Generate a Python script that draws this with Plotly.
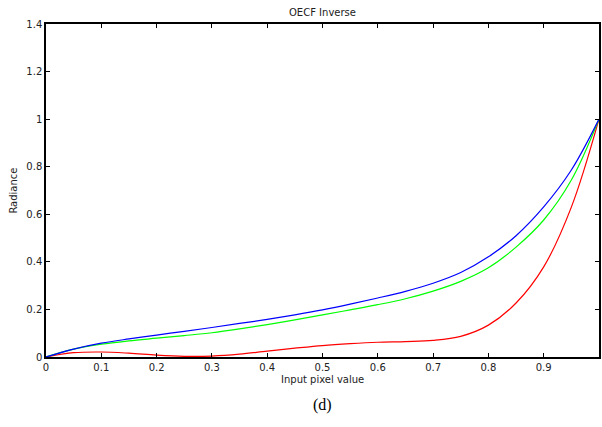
import plotly.graph_objects as go

x_vals = [0, 0.05, 0.1, 0.15, 0.2, 0.25, 0.3, 0.35, 0.4, 0.45, 0.5,
          0.55, 0.6, 0.65, 0.7, 0.75, 0.8, 0.85, 0.9, 0.95, 1.0]
blue_vals = [0, 0.033, 0.058, 0.076, 0.092, 0.108, 0.124, 0.141, 0.158, 0.177, 0.198,
             0.222, 0.248, 0.276, 0.31, 0.355, 0.421, 0.51, 0.631, 0.786, 1.0]
green_vals = [0, 0.033, 0.054, 0.068, 0.079, 0.09, 0.102, 0.118, 0.136, 0.156, 0.177,
              0.198, 0.22, 0.245, 0.277, 0.318, 0.375, 0.462, 0.576, 0.744, 1.0]
red_vals = [0, 0.018, 0.021, 0.016, 0.008, 0.003, 0.004, 0.012, 0.025, 0.037, 0.048,
            0.056, 0.062, 0.065, 0.07, 0.087, 0.134, 0.227, 0.379, 0.63, 1.0]

x_ticks = [0, 0.1, 0.2, 0.3, 0.4, 0.5, 0.6, 0.7, 0.8, 0.9, 1.0]
x_labels = ["0", "0.1", "0.2", "0.3", "0.4", "0.5", "0.6", "0.7", "0.8", "0.9", "1"]
y_ticks = [0, 0.2, 0.4, 0.6, 0.8, 1.0, 1.2, 1.4]
y_labels = ["0", "0.2", "0.4", "0.6", "0.8", "1", "1.2", "1.4"]

fig = go.Figure()
for vals, col in [(red_vals, "#ff0000"), (green_vals, "#00ff00"), (blue_vals, "#0000ff")]:
    fig.add_trace(go.Scatter(x=x_vals, y=vals, mode="lines",
                             line=dict(color=col, width=1.2, shape="spline", smoothing=1.0),
                             showlegend=False, hoverinfo="skip"))

font = "DejaVu Sans, sans-serif"
fig.update_layout(
    width=602, height=427,
    margin=dict(l=46, r=1, t=24, b=70),
    paper_bgcolor="white", plot_bgcolor="white",
    font=dict(family=font, size=10, color="#222"),
    xaxis=dict(range=[0, 1], tickvals=x_ticks, ticktext=x_labels,
               ticks="inside", ticklen=4, tickcolor="black", tickwidth=1,
               showline=True, linecolor="black", linewidth=1.5, mirror="ticks",
               showgrid=False, zeroline=False, tickfont=dict(size=10)),
    yaxis=dict(range=[0, 1.4], tickvals=y_ticks, ticktext=y_labels,
               ticks="inside", ticklen=4, tickcolor="black", tickwidth=1,
               showline=True, linecolor="black", linewidth=1.5, mirror="ticks",
               showgrid=False, zeroline=False, tickfont=dict(size=10)),
    annotations=[
        dict(text="OECF Inverse", x=0.5, y=(357 - 13) / 333, xref="paper", yref="paper",
             showarrow=False, font=dict(size=10, family=font), xanchor="center", yanchor="middle"),
        dict(text="Input pixel value", x=0.5, y=(357 - 379) / 333, xref="paper", yref="paper",
             showarrow=False, font=dict(size=10, family=font), xanchor="center", yanchor="middle"),
        dict(text="Radiance", x=(13 - 46) / 555, y=0.5, xref="paper", yref="paper",
             showarrow=False, textangle=-90, font=dict(size=10, family=font),
             xanchor="center", yanchor="middle"),
        dict(text="(d)", x=0.5, y=(357 - 405) / 333, xref="paper", yref="paper",
             showarrow=False, font=dict(size=16, family="Liberation Serif, Times New Roman, serif", color="black"),
             xanchor="center", yanchor="middle"),
    ],
)

fig.write_html("out.html")
